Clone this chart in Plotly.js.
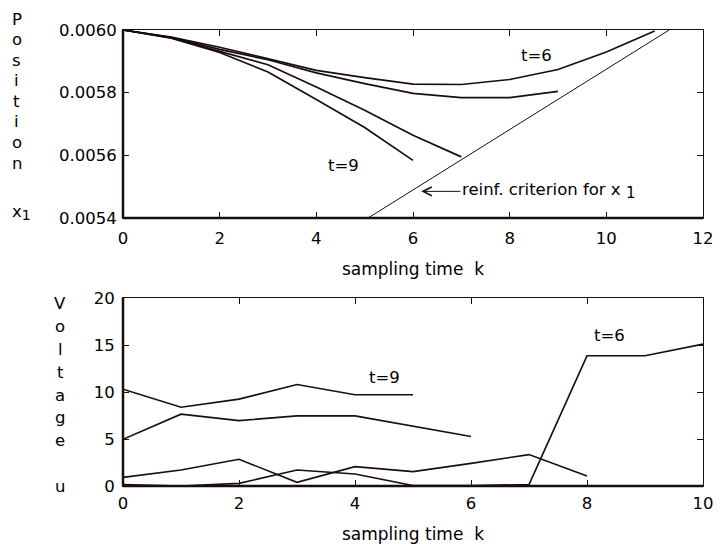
<!DOCTYPE html>
<html>
<head>
<meta charset="utf-8">
<script src="https://cdn.plot.ly/plotly-3.0.1.min.js"></script>
<style>html,body{margin:0;padding:0;background:#fff;}#chart{width:724px;height:544px;}</style>
</head>
<body>
<div id="chart"></div>
<script>
// ---- data ----
const kSteps = [0, 1, 2, 3, 4, 5, 6, 7, 8, 9, 10, 11];

// upper panel: position x1 for the horizons t=6 ... t=9
const posT6 = [0.006000, 0.005977, 0.005945, 0.005908, 0.005871, 0.005848, 0.005827, 0.005826, 0.005842, 0.005874, 0.005930, 0.005997];
const posT7 = [0.006000, 0.005976, 0.005938, 0.005905, 0.005863, 0.005829, 0.005798, 0.005784, 0.005784, 0.005804];
const posT8 = [0.006000, 0.005975, 0.005932, 0.005889, 0.005818, 0.005744, 0.005664, 0.005595];
const posT9 = [0.006000, 0.005974, 0.005928, 0.005866, 0.005778, 0.005689, 0.005584];

// reinforcement criterion for x1 (straight line)
const critK = [5.07, 11.3];
const critX1 = [0.0054, 0.0060];

// lower panel: voltage u
const uT9 = [10.3, 8.38, 9.24, 10.8, 9.7, 9.7];
const uT8 = [4.97, 7.64, 6.96, 7.46, 7.46, 6.39, 5.26];
const uT7 = [0.92, 1.7, 2.84, 0.39, 2.06, 1.53, 2.41, 3.34, 1.07];
const uT6 = [0.15, 0.0, 0.28, 1.7, 1.28, 0.05, 0.05, 0.15, 13.85, 13.85, 15.1];

// tick labels
const topXTicks = [0, 2, 4, 6, 8, 10, 12];
const topYTicks = [0.0054, 0.0056, 0.0058, 0.0060];
const botXTicks = [0, 2, 4, 6, 8, 10];
const botYTicks = [0, 5, 10, 15, 20];

const posLetters = ["P", "o", "s", "i", "t", "i", "o", "n"];
const voltLetters = ["V", "o", "l", "t", "a", "g", "e"];

// ---- drawing ----
const FONT = "DejaVu Sans, Liberation Sans, Arial, sans-serif";
const INK = "#1a0d0d";
const L = 123, R = 21, T = 30, B = 58, WIDTH = 724, HEIGHT = 544;
const W = WIDTH - L - R, H = HEIGHT - T - B;
const px2x = px => (px - L) / W;
const px2y = py => 1 - (py - T) / H;

function line(x, y, xa, ya, w) {
  return {x: x, y: y, xaxis: xa, yaxis: ya, type: "scatter", mode: "lines",
          line: {color: INK, width: w}, hoverinfo: "skip", showlegend: false};
}

const traces = [
  line(kSteps.slice(0, posT6.length), posT6, "x", "y", 1.7),
  line(kSteps.slice(0, posT7.length), posT7, "x", "y", 1.7),
  line(kSteps.slice(0, posT8.length), posT8, "x", "y", 1.7),
  line(kSteps.slice(0, posT9.length), posT9, "x", "y", 1.7),
  line(critK, critX1, "x", "y", 1),
  line(kSteps.slice(0, uT9.length), uT9, "x2", "y2", 1.6),
  line(kSteps.slice(0, uT8.length), uT8, "x2", "y2", 1.6),
  line(kSteps.slice(0, uT7.length), uT7, "x2", "y2", 1.6),
  line(kSteps.slice(0, uT6.length), uT6, "x2", "y2", 1.6)
];

const tickFont = {family: FONT, size: 16.5, color: "#000"};
const titleFont = {family: FONT, size: 17, color: "#000"};
function axisBase() {
  return {showgrid: false, zeroline: false, showline: true, linecolor: INK, linewidth: 1,
          mirror: "ticks", ticks: "inside", ticklen: 6, tickwidth: 1, tickcolor: INK,
          tickfont: tickFont, fixedrange: true};
}

const xaxis = Object.assign(axisBase(), {domain: [0, 1], range: [0, 12], tickvals: topXTicks,
  anchor: "y", ticklabelstandoff: 5,
  title: {text: "sampling time  k", font: titleFont, standoff: 16}});
const yaxis = Object.assign(axisBase(), {domain: [px2y(218), 1], range: [0.0054, 0.0060],
  tickvals: topYTicks, tickformat: ".4f", anchor: "x", ticklabelstandoff: 2});
const xaxis2 = Object.assign(axisBase(), {domain: [0, 1], range: [0, 10], tickvals: botXTicks,
  anchor: "y2", ticklabelstandoff: 2,
  title: {text: "sampling time  k", font: titleFont, standoff: 19}});
const yaxis2 = Object.assign(axisBase(), {domain: [0, px2y(298)], range: [0, 20],
  tickvals: botYTicks, anchor: "x2", ticklabelstandoff: 4});

const annFont = {family: FONT, size: 16.5, color: "#000"};
const annotations = [];
posLetters.forEach((c, i) => annotations.push({xref: "paper", yref: "paper",
  x: px2x(16.5), y: px2y(19.5 + i * 20.5), text: c, showarrow: false,
  xanchor: "center", yanchor: "middle", font: annFont}));
annotations.push({xref: "paper", yref: "paper", x: px2x(10), y: px2y(212),
  text: "x<sub><span style=\"font-size:14px\">1</span></sub>", showarrow: false,
  xanchor: "left", yanchor: "middle", font: annFont});
voltLetters.forEach((c, i) => annotations.push({xref: "paper", yref: "paper",
  x: px2x(60), y: px2y(303.8 + i * 22.8), text: c, showarrow: false,
  xanchor: "center", yanchor: "middle", font: annFont}));
annotations.push({xref: "paper", yref: "paper", x: px2x(60), y: px2y(486.5),
  text: "u", showarrow: false, xanchor: "center", yanchor: "middle", font: annFont});

annotations.push({xref: "x", yref: "y", x: 8.55, y: 0.005919, text: "t=6", showarrow: false, font: annFont});
annotations.push({xref: "x", yref: "y", x: 4.57, y: 0.005568, text: "t=9", showarrow: false, font: annFont});
annotations.push({xref: "x", yref: "y", x: 6.17, y: 0.005485, axref: "x", ayref: "y", ax: 6.98, ay: 0.005485,
  text: "reinf. criterion for x <sub><span style=\"font-size:15px\">1</span></sub>",
  showarrow: true, arrowhead: 5, arrowsize: 1.7, arrowwidth: 1,
  arrowcolor: INK, standoff: 0, startstandoff: 0, xanchor: "left", yanchor: "middle", font: annFont});
annotations.push({xref: "x2", yref: "y2", x: 4.5, y: 11.5, text: "t=9", showarrow: false, font: annFont});
annotations.push({xref: "x2", yref: "y2", x: 8.38, y: 16.0, text: "t=6", showarrow: false, font: annFont});

// thicker left and bottom frame edges
const shapes = [];
[["x", "y"], ["x2", "y2"]].forEach(([xa, ya]) => {
  shapes.push({type: "line", xref: xa + " domain", yref: ya + " domain", x0: 0, x1: 1, y0: 0, y1: 0,
               line: {color: INK, width: 2.5}});
  shapes.push({type: "line", xref: xa + " domain", yref: ya + " domain", x0: 0, x1: 0, y0: 0, y1: 1,
               line: {color: INK, width: 2.5}});
});

const layout = {
  width: WIDTH, height: HEIGHT,
  margin: {l: L, r: R, t: T, b: B, pad: 0},
  paper_bgcolor: "#fff", plot_bgcolor: "#fff",
  showlegend: false,
  font: {family: FONT, size: 16, color: "#000"},
  xaxis: xaxis, yaxis: yaxis, xaxis2: xaxis2, yaxis2: yaxis2,
  annotations: annotations, shapes: shapes
};

Plotly.newPlot("chart", traces, layout, {displayModeBar: false, staticPlot: true});
</script>
</body>
</html>
